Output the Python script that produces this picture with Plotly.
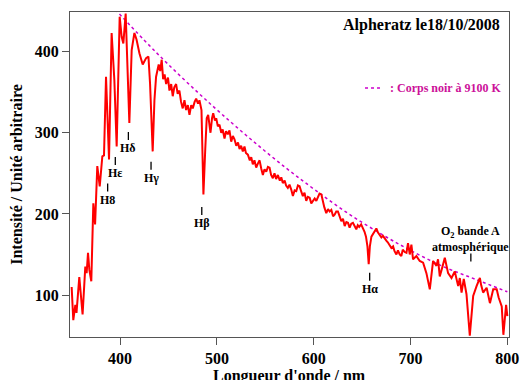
import plotly.graph_objects as go

# Spectrum (wavelength nm, intensity a.u.)
wavelength = [350, 351.7, 353.8, 355, 357.9, 361.3, 364.1, 365.5, 366.9, 368.3, 370.3, 372.4, 374.2,
              376.5, 379, 381.7, 383.4, 385.5, 388.6, 391.3, 394.1, 396.5, 399.6, 401.7, 403.4, 405.8,
              409.6, 412, 414.8, 417, 420, 423.4, 426.9, 429.3, 431, 433.7, 435.5,
              437.2, 439.9, 441.5, 443, 444.5, 446, 447.6, 449.5, 451, 452.8, 454.4, 456, 457.9, 459.5,
              461.3, 463, 464.7, 466.5, 468.2, 470, 471.7, 473.5, 475.1, 477, 478.6, 480.5, 482, 484.1,
              486.1, 488, 489.5, 491, 493.4, 495, 496.2, 498, 499.3, 501, 502.7, 504.5, 506, 507.9,
              509.5, 511.3, 513, 514.8, 516.5, 518.2, 520, 521.8, 523.4, 525, 526.8, 528.5, 530, 532,
              534, 535.5, 537.1, 538.8, 540.6, 542.3, 544.1, 545.8, 547.5, 549.2, 551, 552.7, 554.4,
              556, 557.8, 559.5, 561.2, 563, 565, 566.5, 568.1, 570, 571.5, 573.3, 575, 576.8, 578.5,
              580.3, 582, 583.7, 585.4, 587, 588.8, 590.5, 592.3, 594, 595.8, 597.5, 599.2, 601, 602.7,
              604.3, 606, 607.9, 609.5, 611, 613, 614.8, 616.5, 618.2, 620, 621.6, 623.3, 625, 626.8,
              628.5, 630.2, 632, 633.7, 635.4, 637.1, 638.8, 640.5, 642.2, 644, 645.5, 647, 649, 650.9,
              652.5, 654, 655.5, 656.8, 658, 659.6, 661.3, 663, 664.7, 666.4, 668, 669.9, 671.5, 673.3,
              675, 676.5, 678.5, 680.2, 682, 683.5, 685.4, 687, 688.8, 690.5, 692, 694, 695.8, 697.4,
              699.2, 700.9, 702.6, 706.1,
              709.5, 713, 716.4, 719.9, 723.3, 726.8, 728.4, 730.2, 733, 735.4, 738.8, 742.3, 745.7,
              749.2, 750.9, 752.7, 755, 757.8, 761.2, 764.7, 768.2, 771.6, 773, 775, 778.6, 782, 785.4,
              789, 791, 794.2, 795.9, 798.7, 800]
intensity = [110, 69, 88, 78, 122, 76, 135, 127, 152, 131, 117, 213, 187,
             259, 234, 271, 272, 369, 267, 423, 365, 283, 443, 418, 410, 447,
             312, 402, 423, 415, 398, 384, 392, 394, 360, 277, 340,
             369, 384, 376, 390, 366, 372, 360, 368, 352, 360, 345, 356, 360, 348,
             352, 338, 330, 340, 328, 334, 322, 334, 330, 338, 342, 336, 340, 328,
             224, 280, 318, 322, 300, 318, 324, 315, 318, 308, 310, 300, 304, 293,
             302, 298, 303, 289, 296, 292, 284, 288, 280, 284, 277, 283, 275, 273,
             266, 270, 261, 266, 257, 262, 266, 256, 248, 255, 252, 258, 257,
             248, 244, 250, 243, 248, 241, 245, 238, 241, 235, 232, 236, 230, 222,
             229, 228, 235, 234, 228, 222, 226, 216, 221, 220, 213, 216, 219, 216,
             220, 225, 224, 214, 208, 201, 206, 203, 205, 197, 199, 203, 203, 197,
             191, 194, 185, 190, 189, 183, 188, 189, 184, 181, 186, 184, 187, 183,
             178, 172, 160, 138, 160, 172, 176, 179, 182, 177, 174, 171, 173, 169,
             167, 165, 162, 158, 160, 154, 150, 155, 150, 148, 156, 153, 152, 164,
             150, 162, 144, 148,
             142, 140, 127, 107, 142, 136, 144, 123, 135, 146, 127, 121, 129,
             111, 121, 103, 120, 101, 50, 99, 111, 121, 112, 103, 109, 90, 107,
             107, 97, 86, 51, 88, 74]

# Black body curve (9100 K)
bb_wavelength = [395, 425, 450, 480, 505, 537, 572, 602, 635, 670, 700, 734, 768, 800]
bb_intensity = [452, 414, 384, 350, 323, 290, 256, 229, 201, 175, 155, 135, 119, 104]

# Line labels
label_text = ["H8", "Hε", "Hδ", "Hγ", "Hβ", "Hα", "O<sub>2</sub> bande A<br>atmosphérique"]
label_wl = [387.2, 395.1, 408.6, 432.0, 484.4, 657.8, 762.3]
label_y = [217.6, 250.4, 281.2, 244.6, 188.9, 107.8, 169.6]

x_ticks = [400, 500, 600, 700, 800]
y_ticks = [100, 200, 300, 400]

FONT = "Liberation Serif"

fig = go.Figure()
fig.add_trace(go.Scatter(x=bb_wavelength, y=bb_intensity, mode="lines",
                         line=dict(color="#CC00CC", width=1.5, dash="dot", shape="spline"),
                         hoverinfo="skip", showlegend=False))
fig.add_trace(go.Scatter(x=wavelength, y=intensity, mode="lines",
                         line=dict(color="#FF0000", width=2),
                         showlegend=False))

annotations = []
shapes = []
for txt, wl, yv in zip(label_text, label_wl, label_y):
    annotations.append(dict(x=wl, y=yv, xref="x", yref="y", text=txt, showarrow=False,
                            font=dict(family=FONT, size=12, color="black", weight="bold"),
                            xanchor="center", yanchor="middle"))
    if "O<sub>2" in txt:
        y0, y1 = -15, -23
    else:
        y0, y1 = 8, 16
    shapes.append(dict(type="line", xref="x", yref="y", x0=wl, x1=wl,
                       ysizemode="pixel", yanchor=yv, y0=y0, y1=y1,
                       line=dict(color="black", width=1.3)))

# Title and legend
annotations.append(dict(x=0.983, y=0.96, xref="paper", yref="paper",
                        text="Alpheratz le18/10/2008", showarrow=False,
                        xanchor="right", yanchor="middle",
                        font=dict(family=FONT, size=16, color="black", weight="bold")))
annotations.append(dict(x=0.724, y=0.766, xref="paper", yref="paper",
                        text=": Corps noir à 9100 K", showarrow=False,
                        xanchor="left", yanchor="middle",
                        font=dict(family=FONT, size=12, color="#CC1199", weight="bold")))
shapes.append(dict(type="line", xref="paper", yref="paper", x0=0.672, x1=0.711,
                   y0=0.766, y1=0.766, line=dict(color="#CC00CC", width=1.5, dash="dot")))
# x-axis title (partly cut off by the bottom edge, as in the reference)
annotations.append(dict(x=0.5, y=-0.086, xref="paper", yref="paper",
                        text="Longueur d'onde / nm", showarrow=False,
                        xanchor="center", yanchor="top",
                        font=dict(family=FONT, size=16, color="black", weight="bold")))

fig.update_layout(
    width=520, height=380,
    margin=dict(l=70, r=11, t=12, b=43, autoexpand=False),
    paper_bgcolor="white", plot_bgcolor="white",
    annotations=annotations, shapes=shapes,
    font=dict(family=FONT, color="black"),
)
fig.update_xaxes(range=[348.3, 801.7], tickvals=x_ticks, ticks="outside", ticklen=7,
                 tickcolor="#555555", showline=True, linecolor="#555555", linewidth=1.2,
                 mirror=True, showgrid=False, zeroline=False,
                 tickfont=dict(family=FONT, size=16, color="black", weight="bold"),
                 automargin=False)
fig.update_yaxes(range=[48.3, 448.8], tickvals=y_ticks, ticks="outside", ticklen=7,
                 tickcolor="#555555", showline=True, linecolor="#555555", linewidth=1.2,
                 mirror=True, showgrid=False, zeroline=False,
                 tickfont=dict(family=FONT, size=16, color="black", weight="bold"),
                 title=dict(text="Intensité / Unité arbitraire", standoff=8,
                            font=dict(family=FONT, size=16, color="black", weight="bold")),
                 automargin=False)

fig.write_html("out.html")
